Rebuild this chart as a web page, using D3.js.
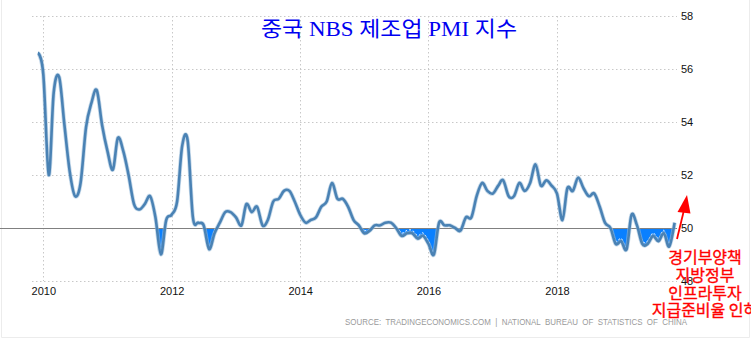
<!DOCTYPE html>
<html><head><meta charset="utf-8">
<script src="https://cdn.jsdelivr.net/npm/d3@7"></script>
<style>
html,body{margin:0;padding:0;background:#fff;}
svg{display:block;}
</style></head>
<body>
<svg id="chart" width="751" height="345"></svg>
<script>
// ---- DATA ----
const startMonth = "2009-12";
const pmiValues = [
  56.6,
  55.8, 52.0, 55.1, 55.7, 53.9, 52.1, 51.2, 51.7, 53.8, 54.7, 55.2, 53.9,
  52.9, 52.2, 53.4, 52.9, 52.0, 50.9, 50.7, 50.9, 51.2, 50.4, 49.0, 50.3,
  50.5, 51.0, 53.1, 53.3, 50.4, 50.2, 50.1, 49.2, 49.8, 50.2, 50.6, 50.6,
  50.4, 50.1, 50.9, 50.6, 50.8, 50.1, 50.3, 51.0, 51.1, 51.4, 51.4, 51.0,
  50.5, 50.2, 50.3, 50.4, 50.8, 51.0, 51.7, 51.1, 51.1, 50.8, 50.3, 50.1,
  49.8, 49.9, 50.1, 50.1, 50.2, 50.2, 50.0, 49.7, 49.8, 49.8, 49.6, 49.7,
  49.4, 49.0, 50.2, 50.1, 50.1, 50.0, 49.9, 50.4, 50.4, 51.2, 51.7, 51.4,
  51.3, 51.6, 51.8, 51.2, 51.2, 51.7, 51.4, 51.7, 52.4, 51.6, 51.8, 51.6,
  51.3, 50.3, 51.5, 51.4, 51.9, 51.5, 51.2, 51.3, 50.8, 50.2, 50.0, 49.4,
  49.5, 49.2, 50.5, 50.1, 49.4, 49.4, 49.7, 49.5, 49.8, 49.3, 50.2
];
const xTickYears = [2010, 2012, 2014, 2016, 2018];
const yTickValues = [48, 50, 52, 54, 56, 58];
const titleText = "중국 NBS 제조업 PMI 지수";
const noteLines = ["경기부양책", "지방정부", "인프라투자", "지급준비율 인하"];
const sourceText = "SOURCE:  TRADINGECONOMICS.COM  |  NATIONAL  BUREAU  OF  STATISTICS  OF  CHINA";
const baselineValue = 50;

// ---- BUILD ----
const parse = d3.timeParse("%Y-%m");
const d0 = parse(startMonth);
const data = pmiValues.map((v, i) => ({ date: d3.timeMonth.offset(d0, i), value: v }));

const svg = d3.select("#chart");
const x = d3.scaleTime()
  .domain([new Date(2010, 0, 1), new Date(2018, 0, 1)])
  .range([43.3, 557]);
const y = d3.scaleLinear().domain([48, 58]).range([281, 16]);

const gridLeft = 32, gridRight = 677;

// border
svg.append("path").attr("d", "M1.5,0 V337.5 H749.5 V0")
  .attr("fill", "none").attr("stroke", "#ececec").attr("stroke-width", 1);

// horizontal grid
svg.append("g").selectAll("line")
  .data(yTickValues.filter(v => v !== baselineValue))
  .join("line")
  .attr("x1", gridLeft).attr("x2", gridRight)
  .attr("y1", d => Math.round(y(d)) + 0.5).attr("y2", d => Math.round(y(d)) + 0.5)
  .attr("stroke", "#c8c8c8").attr("stroke-dasharray", "1.5,2.5");

// vertical grid
svg.append("g").selectAll("line")
  .data(xTickYears.map(yr => new Date(yr, 0, 1)))
  .join("line")
  .attr("x1", d => Math.round(x(d)) + 0.5).attr("x2", d => Math.round(x(d)) + 0.5)
  .attr("y1", 16).attr("y2", 281)
  .attr("stroke", "#c8c8c8").attr("stroke-dasharray", "1.5,2.5");

// clip below baseline
const yb = y(baselineValue);
const defs = svg.append("defs");
defs.append("clipPath").attr("id", "below")
  .append("rect").attr("x", 0).attr("y", yb).attr("width", 751).attr("height", 345 - yb);

const curve = d3.curveCardinal.tension(0);
const area = d3.area().curve(curve)
  .x(d => x(d.date)).y0(yb).y1(d => y(d.value));
const line = d3.line().curve(curve)
  .x(d => x(d.date)).y(d => y(d.value));

svg.append("path").datum(data)
  .attr("d", area).attr("clip-path", "url(#below)")
  .attr("fill", "#0a80ff");

svg.append("path").datum(data)
  .attr("d", line).attr("clip-path", "url(#below)")
  .attr("transform", "translate(0,-3)")
  .attr("fill", "none").attr("stroke", "#ffffff").attr("stroke-width", 1)
  .attr("stroke-dasharray", "2,2");

// baseline
svg.append("line")
  .attr("x1", 0).attr("x2", gridRight)
  .attr("y1", Math.round(yb) + 0.5).attr("y2", Math.round(yb) + 0.5)
  .attr("stroke", "#808080").attr("stroke-width", 1);

// series line
svg.append("path").datum(data)
  .attr("d", line).attr("fill", "none")
  .attr("stroke", "#9dbedb").attr("stroke-width", 4.2).attr("stroke-opacity", 0.6);
svg.append("path").datum(data)
  .attr("d", line).attr("fill", "none")
  .attr("stroke", "#4a82b4").attr("stroke-width", 2.6);

// x axis
const xAxis = d3.axisBottom(x)
  .tickValues(xTickYears.map(yr => new Date(yr, 0, 1)))
  .tickFormat(d3.timeFormat("%Y")).tickSize(0).tickPadding(6);
const gx = svg.append("g").attr("transform", "translate(0,281)").call(xAxis);
gx.select(".domain").remove();
gx.selectAll("text").attr("font-family", "Liberation Sans, Arial, sans-serif")
  .attr("font-size", 11).attr("fill", "#111");

// y axis
const yAxis = d3.axisRight(y).tickValues(yTickValues).tickSize(0).tickPadding(4);
const gy = svg.append("g").attr("transform", `translate(${gridRight},0)`).call(yAxis);
gy.select(".domain").remove();
gy.selectAll("text").attr("font-family", "Liberation Sans, Arial, sans-serif")
  .attr("font-size", 11).attr("fill", "#111");

// title
svg.append("text").text(titleText)
  .attr("x", 389).attr("y", 36).attr("text-anchor", "middle")
  .attr("font-family", "Liberation Serif, 'Noto Sans CJK KR', serif")
  .attr("font-size", 21).attr("fill", "#0000f0")
  .attr("textLength", 256).attr("lengthAdjust", "spacingAndGlyphs");

// source
svg.append("text").text(sourceText)
  .attr("x", 345).attr("y", 325)
  .attr("font-family", "Liberation Sans, Arial, sans-serif")
  .attr("font-size", 8.5).attr("fill", "#9a9a9a")
  .attr("textLength", 342).attr("lengthAdjust", "spacingAndGlyphs")
  .style("white-space", "pre");

// arrow annotation
svg.append("line").attr("x1", 677).attr("y1", 239).attr("x2", 684).attr("y2", 210)
  .attr("stroke", "#ff0000").attr("stroke-width", 1.8);
svg.append("polygon").attr("points", "687,195 677.5,212 690.5,213.5")
  .attr("fill", "#ff0000");

const noteBaselines = [263, 281, 299, 316];
svg.append("g").selectAll("text").data(noteLines).join("text")
  .text(d => d)
  .attr("x", 705).attr("y", (d, i) => noteBaselines[i])
  .attr("text-anchor", "middle")
  .attr("font-family", "'Noto Sans CJK KR', sans-serif")
  .attr("font-size", 16).attr("fill", "#ff0000")
  .attr("stroke", "#ff0000").attr("stroke-width", 0.35)
  .style("white-space", "pre");
</script>
</body></html>
